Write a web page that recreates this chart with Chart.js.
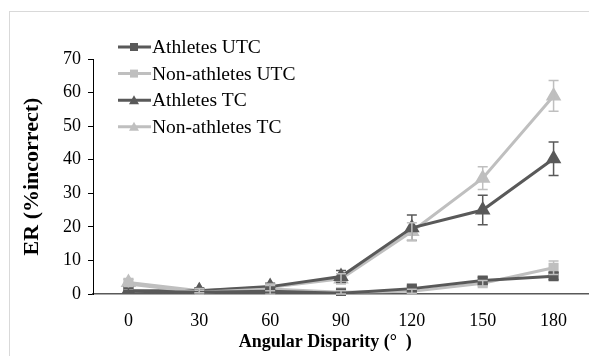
<!DOCTYPE html>
<html>
<head>
<meta charset="utf-8">
<script src="https://cdn.jsdelivr.net/npm/chart.js@4.4.0/dist/chart.umd.min.js"></script>
<style>
  html, body { margin: 0; padding: 0; background: #fff; overflow: hidden; }
  #wrap { width: 598px; height: 356px; position: relative; }
</style>
</head>
<body>
<div id="wrap"><canvas id="erChart"></canvas></div>
<script>
// data
var angles = ['0', '30', '60', '90', '120', '150', '180'];
var yTicks = [0, 10, 20, 30, 40, 50, 60, 70];

var athletesUTC = [0.8, 0.5, 0.8, 0.2, 1.6, 4.0, 5.3];
var athletesUTCErr = [0.5, 0.4, 0.5, 0.6, 0.8, 1.0, 1.0];
var nonAthletesUTC = [3.0, 0.5, 1.5, 0.5, 0.8, 3.2, 7.8];
var nonAthletesUTCErr = [1.4, 0.6, 1.6, 0.5, 0.6, 0.8, 2.0];
var athletesTC = [1.0, 1.0, 2.2, 5.2, 19.7, 25.0, 40.3];
var athletesTCErr = [0.7, 0.6, 1.0, 1.8, 3.8, 4.4, 5.0];
var nonAthletesTC = [3.4, 1.0, 2.0, 4.5, 18.6, 34.5, 59.0];
var nonAthletesTCErr = [1.2, 0.6, 1.0, 1.5, 2.6, 3.4, 4.6];

var dark = '#595959';
var light = '#bfbfbf';
var serif = "'Liberation Serif', 'Times New Roman', serif";

// excel style outer frame
var framePlugin = {
	id: 'frame',
	beforeDraw: function (chart) {
		var ctx = chart.ctx;
		ctx.save();
		ctx.strokeStyle = '#d9d9d9';
		ctx.lineWidth = 1;
		ctx.strokeRect(9.5, 11.5, 700, 500);
		ctx.restore();
	}
};

// vertical error bars with caps
var errorBarPlugin = {
	id: 'errorBars',
	afterDatasetsDraw: function (chart) {
		var ctx = chart.ctx;
		var yScale = chart.scales.y;
		chart.data.datasets.forEach(function (ds, i) {
			var meta = chart.getDatasetMeta(i);
			ctx.save();
			ctx.strokeStyle = ds.borderColor;
			ctx.lineWidth = 1.5;
			meta.data.forEach(function (pt, j) {
				var v = ds.data[j];
				var e = ds.errors[j];
				var yTop = yScale.getPixelForValue(v + e);
				var yBot = yScale.getPixelForValue(v - e);
				ctx.beginPath();
				ctx.moveTo(pt.x, yTop);
				ctx.lineTo(pt.x, yBot);
				ctx.moveTo(pt.x - 5, yTop);
				ctx.lineTo(pt.x + 5, yTop);
				ctx.moveTo(pt.x - 5, yBot);
				ctx.lineTo(pt.x + 5, yBot);
				ctx.stroke();
			});
			ctx.restore();
		});
	}
};

// legend drawn as line + marker like the original
var lineLegendPlugin = {
	id: 'lineLegend',
	afterDraw: function (chart) {
		var ctx = chart.ctx;
		ctx.save();
		ctx.font = '19.5px ' + serif;
		ctx.textBaseline = 'middle';
		chart.data.datasets.forEach(function (ds, i) {
			var y = 47 + i * 26.6;
			ctx.strokeStyle = ds.borderColor;
			ctx.fillStyle = ds.borderColor;
			ctx.lineWidth = 3;
			ctx.beginPath();
			ctx.moveTo(118, y);
			ctx.lineTo(151, y);
			ctx.stroke();
			if (ds.pointStyle === 'triangle') {
				ctx.beginPath();
				ctx.moveTo(134, y - 5);
				ctx.lineTo(139, y + 4);
				ctx.lineTo(129, y + 4);
				ctx.closePath();
				ctx.fill();
			} else {
				ctx.fillRect(130, y - 4, 8, 8);
			}
			ctx.fillStyle = '#000';
			ctx.fillText(ds.label, 152, y + 1);
		});
		ctx.restore();
	}
};

function makeSet(label, data, errs, color, style) {
	return {
		label: label,
		data: data,
		errors: errs,
		borderColor: color,
		backgroundColor: color,
		borderWidth: 3,
		pointStyle: style,
		pointRadius: style === 'triangle' ? 6 : 5,
		pointHoverRadius: 5,
		tension: 0
	};
}

new Chart(document.getElementById('erChart'), {
	type: 'line',
	data: {
		labels: angles,
		datasets: [
			makeSet('Athletes UTC', athletesUTC, athletesUTCErr, dark, 'rect'),
			makeSet('Non-athletes UTC', nonAthletesUTC, nonAthletesUTCErr, light, 'rect'),
			makeSet('Athletes TC', athletesTC, athletesTCErr, dark, 'triangle'),
			makeSet('Non-athletes TC', nonAthletesTC, nonAthletesTCErr, light, 'triangle')
		]
	},
	options: {
		responsive: true,
		maintainAspectRatio: false,
		animation: false,
		layout: { padding: { left: 14, right: 0, top: 59, bottom: 0 } },
		plugins: {
			legend: { display: false },
			tooltip: { enabled: false }
		},
		scales: {
			x: {
				offset: true,
				grid: { display: false, offset: true },
				border: { display: true, color: '#595959', width: 1.5 },
				ticks: { color: '#000', font: { family: serif, size: 18 }, padding: 8, maxRotation: 0 },
				title: {
					display: true,
					text: 'Angular Disparity (°  )       ',
					color: '#000',
					font: { family: serif, size: 18, weight: 'bold' },
					padding: { top: 2, bottom: 3 }
				},
				afterFit: function (scale) {
					scale.height = 62;
					scale.paddingLeft = 0;
					scale.paddingRight = 0;
				}
			},
			y: {
				min: 0,
				max: 70,
				afterBuildTicks: function (scale) {
					scale.ticks = yTicks.map(function (v) { return { value: v }; });
				},
				grid: { drawOnChartArea: false, drawTicks: true, tickLength: 5, color: '#000' },
				border: { display: true, color: '#000', width: 1 },
				ticks: { color: '#000', font: { family: serif, size: 18 }, padding: 7 },
				title: {
					display: true,
					text: 'ER (%incorrect)',
					color: '#000',
					font: { family: serif, size: 22, weight: 'bold' },
					padding: { top: 5, bottom: 3 }
				},
				afterFit: function (scale) { scale.width = 79; }
			}
		}
	},
	plugins: [framePlugin, errorBarPlugin, lineLegendPlugin]
});
</script>
</body>
</html>
